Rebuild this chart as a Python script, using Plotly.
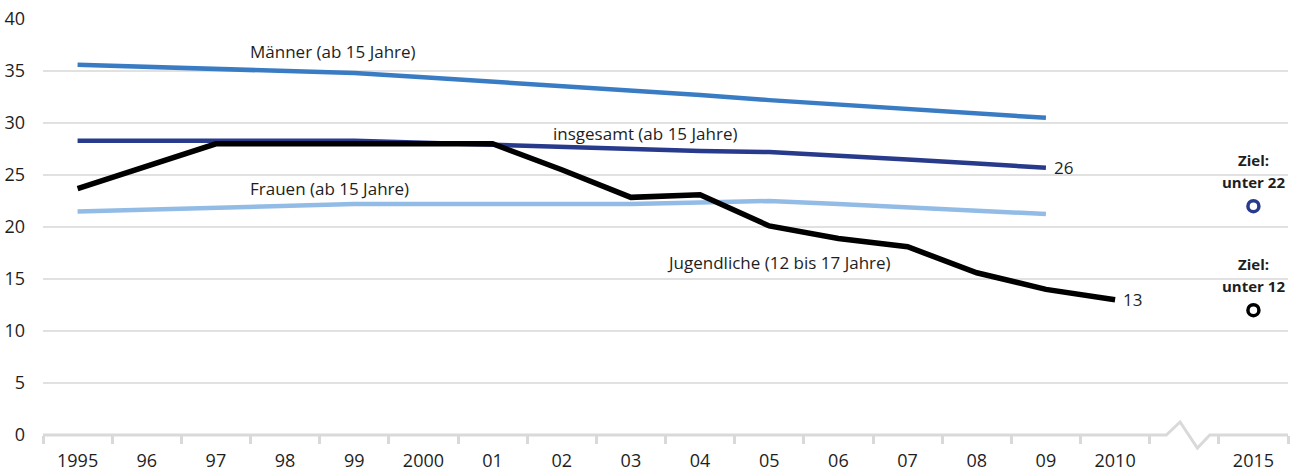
import plotly.graph_objects as go

# categories (blank placeholder = axis break)
categories = ["1995", "96", "97", "98", "99", "2000", "01", "02", "03", "04",
              "05", "06", "07", "08", "09", "2010", " ", "2015"]
years_adult = categories[:15]          # 1995 .. 09
years_youth = categories[:16]          # 1995 .. 2010

maenner = [35.6, 35.4, 35.2, 35.0, 34.8, 34.4, 34.0, 33.6, 33.2, 32.7, 32.2, 31.8, 31.3, 30.9, 30.5]
insgesamt = [28.3, 28.3, 28.3, 28.3, 28.3, 28.1, 27.9, 27.6, 27.4, 27.3, 27.2, 26.9, 26.5, 26.1, 25.7]
frauen = [21.5, 21.65, 21.8, 22.0, 22.2, 22.2, 22.2, 22.2, 22.2, 22.35, 22.5, 22.2, 21.85, 21.55, 21.25]
jugend = [23.7, 25.9, 28.0, 28.0, 28.0, 28.0, 28.0, 25.5, 22.85, 23.1, 20.1, 18.9, 18.1, 15.6, 14.0, 13.0]

ziel_year = "2015"
ziel_insgesamt = 22
ziel_jugend = 12

C_M = "#3a7cc3"
C_I = "#273a8b"
C_F = "#92bce6"
C_J = "#000000"
GRID = "#e1e1e1"
AXIS = "#d9d9d9"
TXT = "#1e1e1e"
FONT = "Open Sans"


def idx(cat):
    return categories.index(cat)


fig = go.Figure()
fig.add_trace(go.Scatter(x=years_adult, y=maenner, mode="lines", line=dict(color=C_M, width=4.5)))
fig.add_trace(go.Scatter(x=years_adult, y=frauen, mode="lines", line=dict(color=C_F, width=4.5)))
fig.add_trace(go.Scatter(x=years_adult, y=insgesamt, mode="lines", line=dict(color=C_I, width=4.5)))
fig.add_trace(go.Scatter(x=years_youth, y=jugend, mode="lines", line=dict(color=C_J, width=5.5)))
fig.add_trace(go.Scatter(x=[ziel_year], y=[ziel_insgesamt], mode="markers",
                         marker=dict(symbol="circle-open", size=11, color=C_I, line=dict(width=3.5, color=C_I))))
fig.add_trace(go.Scatter(x=[ziel_year], y=[ziel_jugend], mode="markers",
                         marker=dict(symbol="circle-open", size=11, color=C_J, line=dict(width=3.5, color=C_J))))

lab_font = dict(family=FONT, size=17, color=TXT)
ann = [
    dict(x=2.46, y=36.9, text="Männer (ab 15 Jahre)", xanchor="left", yanchor="middle"),
    dict(x=6.84, y=29.0, text="insgesamt (ab 15 Jahre)", xanchor="left", yanchor="middle"),
    dict(x=2.46, y=23.75, text="Frauen (ab 15 Jahre)", xanchor="left", yanchor="middle"),
    dict(x=11.79, y=16.6, text="Jugendliche (12 bis 17 Jahre)", xanchor="right", yanchor="middle"),
    dict(x=idx(years_adult[-1]), y=insgesamt[-1], text=str(round(insgesamt[-1])), xanchor="left",
         yanchor="middle", xshift=6),
    dict(x=idx(years_youth[-1]), y=jugend[-1], text=str(round(jugend[-1])), xanchor="left",
         yanchor="middle", xshift=6),
]
for a in ann:
    fig.add_annotation(showarrow=False, font=lab_font, xref="x", yref="y", **a)

ziel_font = dict(family=FONT, size=15, color=TXT)
for val in (ziel_insgesamt, ziel_jugend):
    fig.add_annotation(x=idx(ziel_year), y=val, text="<b>Ziel:</b>", showarrow=False,
                       xanchor="center", yanchor="middle", yshift=46, font=ziel_font)
    fig.add_annotation(x=idx(ziel_year), y=val, text=f"<b>unter {val}</b>", showarrow=False,
                       xanchor="center", yanchor="middle", yshift=24, font=ziel_font)

# baseline with axis break (decoration)
n = len(categories)
brk = categories.index(" ")
h = 1.25 / 40
path = (f"M -0.5,0 L {brk-0.26},0 L {brk-0.06},{h} L {brk+0.19},{-h} "
        f"L {brk+0.37},0 L {n-0.5},0")
fig.add_shape(type="rect", xref="x", yref="paper", x0=brk - 0.3, x1=brk + 0.4, y0=-0.006, y1=0.006,
              fillcolor="white", line=dict(width=0), layer="above")
fig.add_shape(type="path", xref="x", yref="paper", path=path, line=dict(color=AXIS, width=3),
              layer="above")

fig.update_xaxes(type="category", categoryorder="array", categoryarray=categories,
                 range=[-0.5, n - 0.5], showgrid=False, zeroline=False, showline=False,
                 tickson="boundaries", ticks="outside", ticklen=8, tickwidth=3, tickcolor=AXIS,
                 tickfont=dict(family=FONT, size=18, color=TXT), ticklabelstandoff=13,
                 automargin=False)
fig.update_yaxes(range=[0, 40], tickvals=list(range(0, 41, 5)), showgrid=True, gridcolor=GRID,
                 gridwidth=2, zeroline=False, showline=False, ticks="",
                 tickfont=dict(family=FONT, size=18, color=TXT), ticklabelstandoff=17,
                 automargin=False)

fig.update_layout(width=1294, height=471, margin=dict(l=43, r=6, t=19, b=36),
                  paper_bgcolor="white", plot_bgcolor="white", showlegend=False)

fig.write_html("out.html", config={"displayModeBar": False},
               post_script="document.body.style.margin='0';")
